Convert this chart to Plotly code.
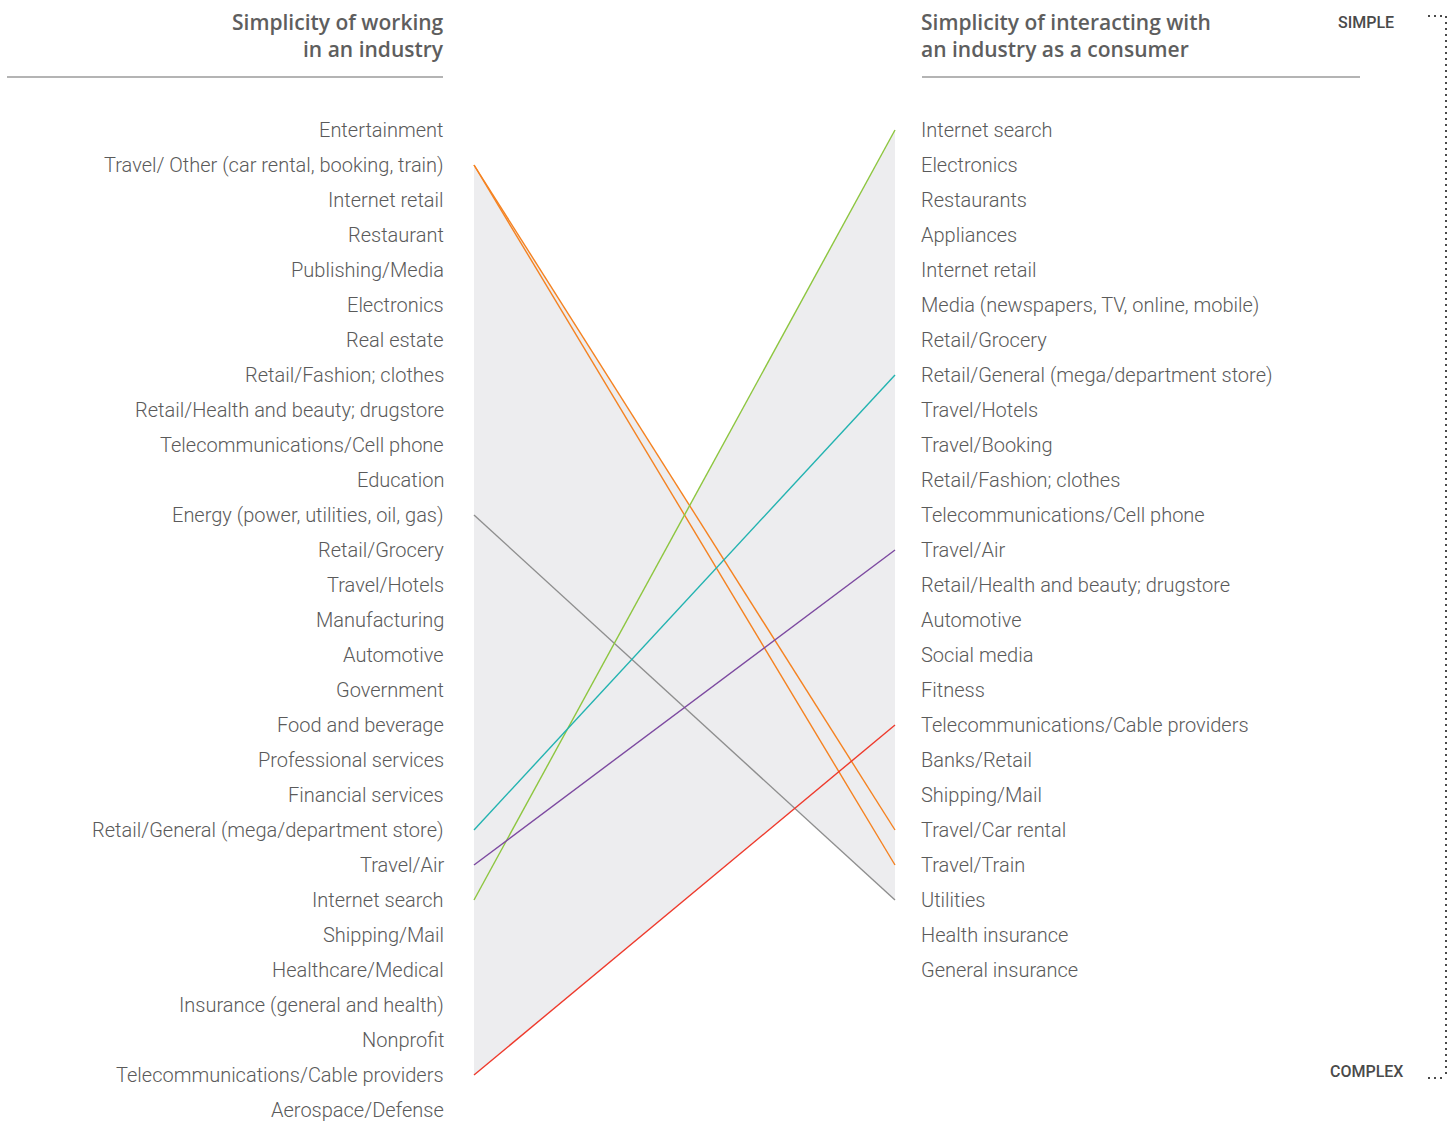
import numpy as np
import plotly.graph_objects as go

W, H = 1453, 1121

# Rankings: position 1 = simplest
work_ranking = [
    "Entertainment",
    "Travel/ Other (car rental, booking, train)",
    "Internet retail",
    "Restaurant",
    "Publishing/Media",
    "Electronics",
    "Real estate",
    "Retail/Fashion; clothes",
    "Retail/Health and beauty; drugstore",
    "Telecommunications/Cell phone",
    "Education",
    "Energy (power, utilities, oil, gas)",
    "Retail/Grocery",
    "Travel/Hotels",
    "Manufacturing",
    "Automotive",
    "Government",
    "Food and beverage",
    "Professional services",
    "Financial services",
    "Retail/General (mega/department store)",
    "Travel/Air",
    "Internet search",
    "Shipping/Mail",
    "Healthcare/Medical",
    "Insurance (general and health)",
    "Nonprofit",
    "Telecommunications/Cable providers",
    "Aerospace/Defense",
]

consumer_ranking = [
    "Internet search",
    "Electronics",
    "Restaurants",
    "Appliances",
    "Internet retail",
    "Media (newspapers, TV, online, mobile)",
    "Retail/Grocery",
    "Retail/General (mega/department store)",
    "Travel/Hotels",
    "Travel/Booking",
    "Retail/Fashion; clothes",
    "Telecommunications/Cell phone",
    "Travel/Air",
    "Retail/Health and beauty; drugstore",
    "Automotive",
    "Social media",
    "Fitness",
    "Telecommunications/Cable providers",
    "Banks/Retail",
    "Shipping/Mail",
    "Travel/Car rental",
    "Travel/Train",
    "Utilities",
    "Health insurance",
    "General insurance",
]

# Highlighted connections: (working-side industry, consumer-side industry)
link_from = [
    "Travel/ Other (car rental, booking, train)",
    "Travel/ Other (car rental, booking, train)",
    "Energy (power, utilities, oil, gas)",
    "Internet search",
    "Retail/General (mega/department store)",
    "Travel/Air",
    "Telecommunications/Cable providers",
]
link_to = [
    "Travel/Car rental",
    "Travel/Train",
    "Utilities",
    "Internet search",
    "Retail/General (mega/department store)",
    "Travel/Air",
    "Telecommunications/Cable providers",
]
link_colors = ["#f58220", "#f58220", "#8e8e8e", "#8dc63f", "#22b3b0", "#7d4aa0", "#ee3a2c"]

left_rank = {name: i + 1 for i, name in enumerate(work_ranking)}
right_rank = {name: i + 1 for i, name in enumerate(consumer_ranking)}

# Axis setup: x=0 is the working column, x=1 the consumer column
X0_PX, X1_PX = 474, 895
PX_PER_X = X1_PX - X0_PX
TOP_PX, STEP_PX = 130, 35
x_range = [-X0_PX / PX_PER_X, (W - X0_PX) / PX_PER_X]
y_range = [1 + (H - TOP_PX) / STEP_PX, 1 - TOP_PX / STEP_PX]

def px_to_x(px):
    return (px - X0_PX) / PX_PER_X

def px(x):
    return x / W

def py(y):
    return 1 - y / H

fig = go.Figure()

# Shaded band between the highest and lowest connection at each x
xs = np.linspace(0, 1, 801)
ys = np.array([
    left_rank[a] + (right_rank[b] - left_rank[a]) * xs
    for a, b in zip(link_from, link_to)
])
upper = ys.min(axis=0)
lower = ys.max(axis=0)
fig.add_trace(go.Scatter(
    x=np.concatenate([xs, xs[::-1]]),
    y=np.concatenate([upper, lower[::-1]]),
    fill="toself", fillcolor="#ededef",
    line=dict(width=0), mode="lines", hoverinfo="skip", showlegend=False,
))

for a, b, c in zip(link_from, link_to, link_colors):
    fig.add_trace(go.Scatter(
        x=[0, 1], y=[left_rank[a], right_rank[b]],
        mode="lines", line=dict(color=c, width=1.4),
        hoverinfo="skip", showlegend=False,
    ))

label_font = dict(family="Roboto, Arial, sans-serif", size=20, color="#5a5a5a", weight=300)
for i, name in enumerate(work_ranking):
    fig.add_annotation(x=px_to_x(446), y=i + 1, xref="x", yref="y", text=name,
                       showarrow=False, xanchor="right", yanchor="middle", font=label_font)
for i, name in enumerate(consumer_ranking):
    fig.add_annotation(x=px_to_x(919), y=i + 1, xref="x", yref="y", text=name,
                       showarrow=False, xanchor="left", yanchor="middle", font=label_font)

head_font = dict(family="Open Sans, Arial, sans-serif", size=21, color="#5e5e5e", weight=600)
for txt, yy in [("Simplicity of working", 22), ("in an industry", 49)]:
    fig.add_annotation(x=px(446), y=py(yy), xref="paper", yref="paper", text=txt,
                       showarrow=False, xanchor="right", yanchor="middle", font=head_font)
for txt, yy in [("Simplicity of interacting with", 22), ("an industry as a consumer", 49)]:
    fig.add_annotation(x=px(919), y=py(yy), xref="paper", yref="paper", text=txt,
                       showarrow=False, xanchor="left", yanchor="middle", font=head_font)

rule = dict(color="#6a6a6a", width=1.2)
fig.add_shape(type="line", xref="paper", yref="paper", x0=px(7), x1=px(443), y0=py(77), y1=py(77), line=rule)
fig.add_shape(type="line", xref="paper", yref="paper", x0=px(922), x1=px(1360), y0=py(77), y1=py(77), line=rule)

scale_font = dict(family="Roboto, Arial, sans-serif", size=16, color="#4a4a4a", weight=500)
fig.add_annotation(x=px(1366), y=py(23), xref="paper", yref="paper", text="SIMPLE",
                   showarrow=False, xanchor="center", yanchor="middle", font=scale_font)
fig.add_annotation(x=px(1366), y=py(1071), xref="paper", yref="paper", text="COMPLEX",
                   showarrow=False, xanchor="center", yanchor="middle", font=scale_font)

dots = dict(color="#4a4a4a", width=2, dash="2px,4px")
fig.add_shape(type="line", xref="paper", yref="paper", x0=px(1428), x1=px(1446), y0=py(16), y1=py(16), line=dots)
fig.add_shape(type="line", xref="paper", yref="paper", x0=px(1446), x1=px(1446), y0=py(16), y1=py(1078), line=dots)
fig.add_shape(type="line", xref="paper", yref="paper", x0=px(1428), x1=px(1446), y0=py(1078), y1=py(1078), line=dots)

fig.update_layout(
    width=W, height=H, autosize=False,
    margin=dict(l=0, r=0, t=0, b=0),
    paper_bgcolor="white", plot_bgcolor="white",
    xaxis=dict(range=x_range, visible=False, fixedrange=True),
    yaxis=dict(range=y_range, visible=False, fixedrange=True),
    showlegend=False,
)

fig.write_html("out.html")
